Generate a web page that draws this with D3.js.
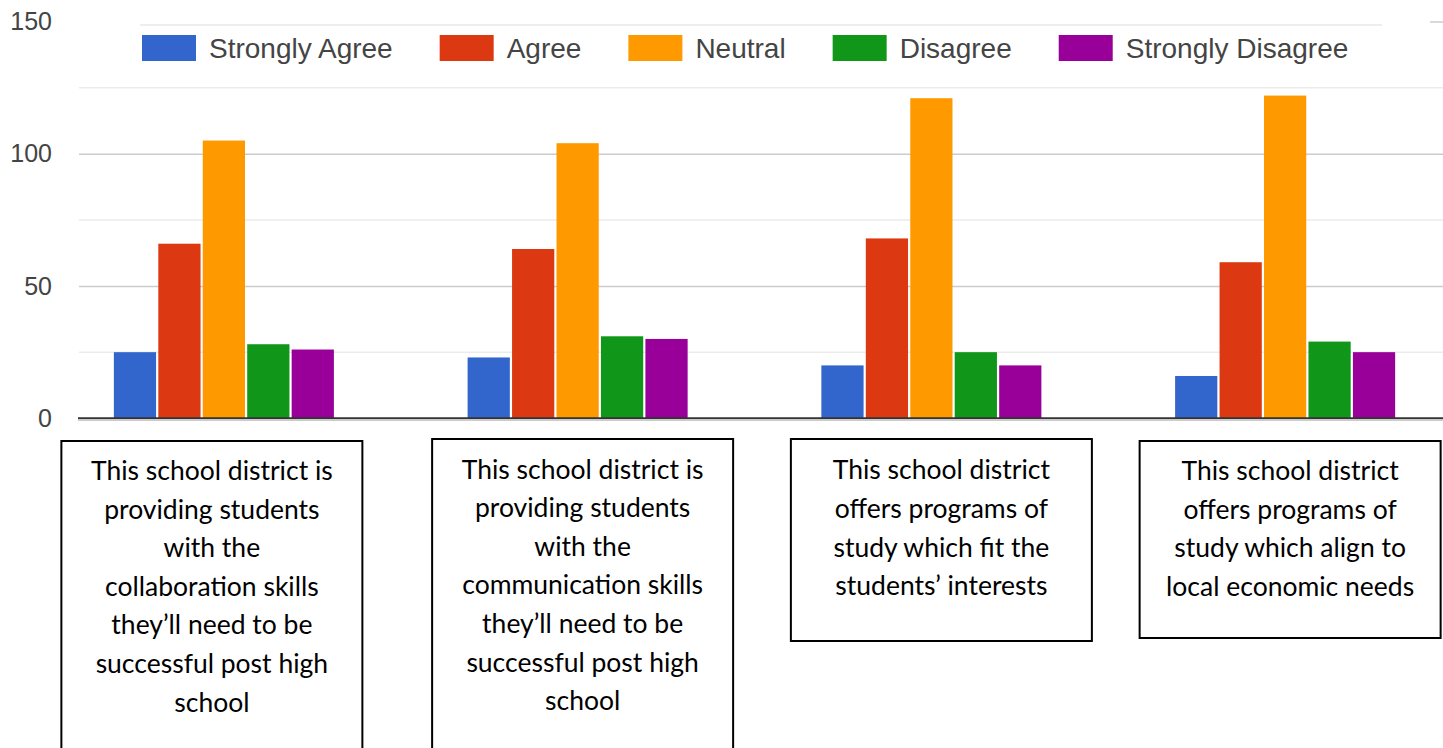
<!DOCTYPE html>
<html><head><meta charset="utf-8">
<script src="https://cdn.jsdelivr.net/npm/d3@7"></script>
<style>body{margin:0;background:#fff;} svg{display:block;}</style>
</head><body><svg id="c" width="1443" height="748"></svg>
<script>
const categories = ["collaboration", "communication", "interests", "economic"];
const categoryLabels = [
  ["This school district is", "providing students", "with the", "collaboration skills", "they’ll need to be", "successful post high", "school"],
  ["This school district is", "providing students", "with the", "communication skills", "they’ll need to be", "successful post high", "school"],
  ["This school district", "offers programs of", "study which fit the", "students’ interests"],
  ["This school district", "offers programs of", "study which align to", "local economic needs"]
];
const seriesNames = ["Strongly Agree", "Agree", "Neutral", "Disagree", "Strongly Disagree"];
const seriesColors = ["#3366cc", "#dc3912", "#ff9900", "#109618", "#990099"];
const stronglyAgree = [25, 23, 20, 16];
const agree = [66, 64, 68, 59];
const neutral = [105, 104, 121, 122];
const disagree = [28, 31, 25, 29];
const stronglyDisagree = [26, 30, 20, 25];
const yTicks = [0, 50, 100, 150];
const yMinorTicks = [25, 75, 125];

const seriesValues = [stronglyAgree, agree, neutral, disagree, stronglyDisagree];

const svg = d3.select("#c");
const plotLeft = 79, plotRight = 1443;
const y = d3.scaleLinear().domain([0, 150]).range([418.3, 21.5]);
const x0 = d3.scaleBand().domain(categories).range([47, 1462]).paddingInner(0.378).paddingOuter(0.189);
const x1 = d3.scaleBand().domain(seriesNames).range([0, x0.bandwidth()]).paddingInner(0.05);

// minor gridlines
svg.append("g").selectAll("line").data(yMinorTicks).join("line")
  .attr("x1", plotLeft).attr("x2", plotRight)
  .attr("y1", d => y(d)).attr("y2", d => y(d))
  .attr("stroke", "#ebebeb").attr("stroke-width", 1.5);

// major gridlines via axis
const yAxis = d3.axisLeft(y).tickValues(yTicks).tickSize(-(plotRight - plotLeft)).tickFormat(d3.format("d"));
const ag = svg.append("g").attr("transform", `translate(${plotLeft},0)`).call(yAxis);
ag.select(".domain").remove();
ag.selectAll(".tick line").attr("stroke", d => d === 0 ? "none" : "#cccccc").attr("stroke-width", 1.5);
ag.selectAll(".tick text").attr("x", -27).attr("fill", "#444")
  .style("font-family", "'Liberation Sans', Arial, sans-serif").style("font-size", "25px");

// legend (covers the 150 gridline)
svg.append("rect").attr("x", plotLeft).attr("y", 18).attr("width", 1430 - plotLeft).attr("height", 50).attr("fill", "#fff");
svg.append("line").attr("x1", 140).attr("x2", 1382).attr("y1", 25).attr("y2", 25).attr("stroke", "#eeeeee").attr("stroke-width", 2);
const lg = svg.append("g");
let lx = 142;
seriesNames.forEach((name, i) => {
  lg.append("rect").attr("x", lx).attr("y", 35).attr("width", 54).attr("height", 26).attr("fill", seriesColors[i]);
  const t = lg.append("text").attr("x", lx + 67).attr("y", 58).text(name)
    .attr("fill", "#444")
    .style("font-family", "'Liberation Sans', Arial, sans-serif").style("font-size", "28px");
  lx += 67 + t.node().getComputedTextLength() + 47;
});

// bars
const groups = svg.append("g").selectAll("g").data(categories).join("g")
  .attr("transform", d => `translate(${x0(d)},0)`);
groups.selectAll("rect").data((d, ci) => seriesNames.map((s, si) => ({ s, si, v: seriesValues[si][ci] })))
  .join("rect")
  .attr("x", d => x1(d.s)).attr("width", x1.bandwidth())
  .attr("y", d => y(d.v)).attr("height", d => y(0) - y(d.v))
  .attr("fill", d => seriesColors[d.si]);

// baseline
svg.append("line").attr("x1", plotLeft - 1).attr("x2", plotRight).attr("y1", y(0)).attr("y2", y(0))
  .attr("stroke", "#333").attr("stroke-width", 2);
svg.append("line").attr("x1", plotLeft - 1).attr("x2", plotRight).attr("y1", y(0) + 2).attr("y2", y(0) + 2)
  .attr("stroke", "#ccc").attr("stroke-width", 1.5);

// category label boxes
const boxOffsets = [-12, 5, 10, 5];
const boxTops = [441, 439, 439, 441];
const boxHeights = [320, 320, 202, 197];
const firstBaselines = [480, 478.5, 479.3, 480];
const boxW = 301;
categories.forEach((c, i) => {
  const cx = x0(c) + x0.bandwidth() / 2 + boxOffsets[i];
  const g = svg.append("g");
  g.append("rect").attr("x", cx - boxW / 2).attr("y", boxTops[i]).attr("width", boxW).attr("height", boxHeights[i])
    .attr("fill", "#fff").attr("stroke", "#000").attr("stroke-width", 2);
  g.selectAll("text").data(categoryLabels[i]).join("text")
    .attr("x", cx).attr("y", (d, j) => firstBaselines[i] + j * 38.6)
    .attr("text-anchor", "middle").attr("fill", "#000")
    .style("font-family", "Lato, 'Noto Sans', sans-serif").style("font-size", "26.5px")
    .text(d => d);
});
</script></body></html>
